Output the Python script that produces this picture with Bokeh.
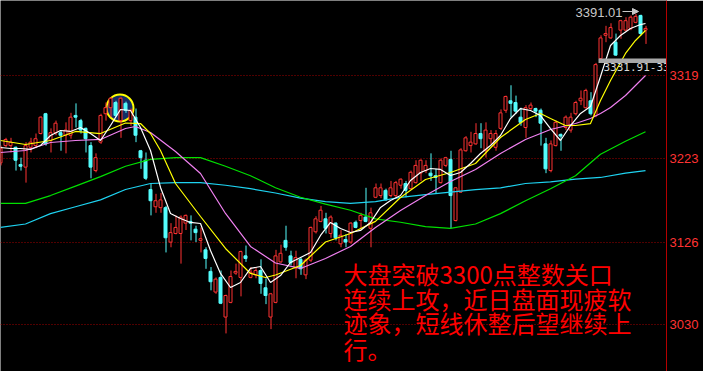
from bokeh.plotting import figure
from bokeh.models import Range1d, FixedTicker, Label, Arrow, NormalHead, ColumnDataSource
from bokeh.embed import file_html
from bokeh.resources import INLINE
from bokeh.core.properties import value

# ---------------- data ----------------
opens = [3218, 3238, 3238, 3236, 3216, 3213, 3236, 3238, 3252, 3275,
         3244, 3253, 3253, 3250, 3250, 3273, 3267, 3258, 3238, 3209,
         3242, 3275, 3282, 3288, 3267, 3287, 3267, 3271, 3232, 3221,
         3187, 3167, 3166, 3166, 3126, 3136, 3136, 3148, 3150, 3141,
         3128, 3117, 3092, 3068, 3085, 3039, 3056, 3090, 3085, 3110,
         3085, 3088, 3093, 3073, 3039, 3056, 3103, 3128, 3110, 3096,
         3106, 3088, 3105, 3138, 3150, 3153, 3136, 3148, 3124, 3129,
         3126, 3149, 3151, 3155, 3142, 3178, 3180, 3186, 3180, 3180,
         3192, 3194, 3188, 3195, 3206, 3209, 3206, 3203, 3195, 3215,
         3222, 3151, 3184, 3232, 3238, 3240, 3252, 3232, 3246, 3236,
         3258, 3279, 3290, 3288, 3271, 3259, 3281, 3281, 3279, 3240,
         3209, 3238, 3251, 3259, 3256, 3275, 3290, 3282, 3290, 3273,
         3339, 3366, 3363, 3358, 3372, 3372, 3374, 3381, 3389, 3372]
highs = [3238, 3247, 3247, 3237, 3224, 3242, 3247, 3252, 3272, 3276,
         3258, 3267, 3256, 3265, 3276, 3287, 3269, 3259, 3242, 3229,
         3275, 3288, 3294, 3290, 3294, 3289, 3281, 3281, 3233, 3230,
         3194, 3182, 3183, 3168, 3148, 3157, 3157, 3158, 3157, 3145,
         3143, 3120, 3097, 3085, 3093, 3065, 3093, 3101, 3116, 3122,
         3097, 3097, 3106, 3084, 3067, 3117, 3123, 3145, 3116, 3116,
         3108, 3107, 3144, 3156, 3168, 3160, 3157, 3149, 3140, 3135,
         3149, 3151, 3160, 3189, 3166, 3194, 3194, 3188, 3197, 3197,
         3200, 3197, 3209, 3221, 3222, 3221, 3229, 3211, 3223, 3225,
         3232, 3190, 3235, 3249, 3254, 3264, 3264, 3265, 3256, 3256,
         3280, 3296, 3308, 3296, 3282, 3285, 3288, 3282, 3281, 3247,
         3244, 3267, 3252, 3273, 3276, 3290, 3302, 3304, 3300, 3334,
         3366, 3377, 3380, 3368, 3384, 3387, 3389, 3391.01, 3390, 3377]
lows = [3215, 3236, 3230, 3209, 3209, 3195, 3230, 3235, 3251, 3238,
        3230, 3250, 3232, 3229, 3246, 3259, 3252, 3230, 3200, 3207,
        3240, 3267, 3271, 3271, 3247, 3276, 3261, 3242, 3211, 3198,
        3157, 3160, 3160, 3114, 3120, 3135, 3101, 3140, 3128, 3126,
        3114, 3095, 3070, 3066, 3054, 3020, 3055, 3088, 3063, 3103,
        3084, 3084, 3066, 3054, 3025, 3055, 3102, 3116, 3099, 3084,
        3088, 3083, 3103, 3136, 3149, 3136, 3131, 3128, 3120, 3120,
        3124, 3142, 3142, 3149, 3120, 3177, 3177, 3174, 3178, 3178,
        3188, 3178, 3187, 3194, 3197, 3206, 3197, 3182, 3194, 3213,
        3142, 3150, 3183, 3231, 3230, 3239, 3235, 3224, 3240, 3232,
        3256, 3276, 3271, 3275, 3261, 3247, 3279, 3271, 3238, 3206,
        3207, 3237, 3232, 3256, 3253, 3273, 3285, 3281, 3273, 3271,
        3338, 3358, 3362, 3342, 3362, 3371, 3372, 3380, 3366, 3356]
closes = [3235, 3245, 3242, 3221, 3214, 3238, 3242, 3246, 3271, 3240,
          3253, 3264, 3250, 3256, 3271, 3271, 3256, 3246, 3213, 3224,
          3273, 3282, 3293, 3273, 3293, 3279, 3279, 3250, 3224, 3200,
          3174, 3174, 3175, 3131, 3137, 3143, 3155, 3157, 3148, 3137,
          3130, 3107, 3080, 3083, 3055, 3064, 3086, 3092, 3115, 3107,
          3091, 3093, 3078, 3064, 3066, 3110, 3113, 3120, 3102, 3108,
          3095, 3105, 3143, 3153, 3163, 3142, 3155, 3131, 3134, 3126,
          3148, 3143, 3157, 3150, 3160, 3189, 3189, 3175, 3189, 3195,
          3199, 3186, 3207, 3215, 3221, 3215, 3203, 3201, 3221, 3224,
          3180, 3189, 3233, 3247, 3242, 3252, 3246, 3256, 3252, 3252,
          3276, 3295, 3287, 3278, 3265, 3282, 3285, 3278, 3264, 3211,
          3240, 3265, 3249, 3271, 3271, 3288, 3293, 3302, 3275, 3332,
          3363, 3368, 3375, 3343, 3383, 3383, 3387, 3388, 3368, 3374]

ma5_x = list(range(0, 130, 2)) + [129]
ma5 = [3235.8, 3234.6, 3234.6, 3233.5, 3238.1, 3249.7, 3255.5, 3254.4, 3259.0, 3252.0,
       3243.9, 3261.3, 3279.9, 3278.7, 3259.0, 3232.3, 3189.4, 3159.2, 3153.4, 3148.8,
       3147.6, 3116.2, 3089.6, 3073.3, 3079.1, 3095.4, 3097.7, 3079.1, 3087.2, 3102.3,
       3108.1, 3113.9, 3133.7, 3148.8, 3141.8, 3137.1, 3139.5, 3148.8, 3166.2, 3174.3,
       3180.1, 3197.5, 3206.8, 3211.4, 3210.3, 3203.3, 3206.8, 3217.2, 3228.8, 3238.1,
       3249.7, 3269.4, 3281.0, 3278.7, 3272.9, 3257.8, 3243.9, 3261.3, 3275.3, 3283.4,
       3318.2, 3354.2, 3365.8, 3373.9, 3378.5, 3379.7]

ma10_x = [0, 5, 10, 15, 20, 25, 28, 30, 32, 35, 40, 45, 50, 53, 55, 60, 65, 70, 75, 80,
          85, 90, 95, 100, 105, 108, 110, 113, 115, 118, 120, 122, 125, 127, 129]
ma10 = [3243.9, 3239.3, 3243.9, 3254.4, 3252.0, 3264.2, 3263.6, 3252.0, 3232.3, 3194.0,
        3155.7, 3118.6, 3089.6, 3084.9, 3087.8, 3098.8, 3126.1, 3136.0, 3150.0, 3177.8,
        3198.6, 3206.8, 3217.2, 3247.4, 3268.3, 3275.2, 3269.4, 3261.3, 3261.3, 3263.6,
        3290.3, 3313.6, 3344.9, 3360.0, 3371.6]

ma20_x = [0, 5, 10, 15, 20, 25, 27, 30, 35, 40, 45, 50, 55, 60, 65, 70, 75, 80, 85, 90,
          95, 100, 105, 110, 115, 118, 120, 122, 125, 127, 129]
ma20 = [3230.0, 3232.3, 3241.6, 3243.9, 3245.1, 3257.8, 3260.2, 3253.2, 3231.2, 3205.6,
        3159.2, 3120.9, 3101.7, 3095.4, 3107.0, 3120.9, 3143.0, 3162.7, 3180.0, 3196.3,
        3210.3, 3228.8, 3245.1, 3256.7, 3263.6, 3269.4, 3275.3, 3282.2, 3296.1, 3307.8,
        3319.4]

ma_long_x = list(range(0, 130, 5)) + [129]
ma60 = [3171, 3171, 3180, 3191, 3202, 3214, 3222, 3224, 3224, 3214,
        3203, 3189, 3178, 3170, 3163, 3153, 3149, 3144, 3142, 3147,
        3159, 3174, 3188, 3203, 3228, 3243, 3254]
ma120 = [3143, 3147, 3159, 3167, 3175, 3187, 3194, 3195, 3195, 3192,
         3188, 3183, 3177, 3173, 3171, 3173, 3178, 3181, 3184, 3187,
         3189, 3194, 3196, 3199, 3201, 3206, 3209]

y_ticks = [3030, 3126, 3223, 3319]

text_lines = ["大盘突破3300点整数关口",
              "连续上攻，近日盘面现疲软",
              "迹象，短线休整后望继续上",
              "行。"]

high_label = "3391.01"
gap_label = "3331.91-3331.91"
gap_low, gap_high = 3334, 3339
circle_idx, circle_price = 23.9, 3281.6

# ---------------- figure ----------------
RED = "#ff3232"
CYAN = "#54fcfc"

p = figure(width=703, height=371, output_backend="svg", toolbar_location=None,
           x_range=Range1d(0, 133.2), y_range=Range1d(2975.8, 3406.4),
           x_axis_location=None, y_axis_location="right",
           background_fill_color="black", border_fill_color="black",
           min_border_left=0, min_border_top=0, min_border_bottom=0,
           min_border_right=37)
p.outline_line_color = None

ax = p.yaxis[0]
ax.ticker = FixedTicker(ticks=y_ticks)
ax.axis_line_color = "#b40000"
ax.axis_line_width = 1
ax.major_tick_line_color = None
ax.minor_tick_line_color = None
ax.major_tick_out = 0
ax.major_tick_in = 0
ax.minor_tick_out = 0
ax.major_label_text_color = "#ff3333"
ax.major_label_text_font = "Liberation Sans"
ax.major_label_text_font_size = "13px"
ax.major_label_standoff = 3

p.xgrid.visible = False
p.ygrid[0].ticker = FixedTicker(ticks=y_ticks)
p.ygrid.grid_line_color = "#a00000"
p.ygrid.grid_line_dash = "1 2"
p.ygrid.grid_line_width = 1

# highlight circle (behind candles)
p.circle(x=[circle_idx], y=[circle_price], radius=13.5, radius_units="screen",
         fill_color="#14306a", fill_alpha=0.95, line_color="#ffff00", line_width=2)

# candles
n = len(opens)
idx = list(range(n))
up = [i for i in idx if closes[i] >= opens[i]]
dn = [i for i in idx if closes[i] < opens[i]]

wx = [i + 0.1 for i in idx]

# red (up): hollow body, wick above and below
up_src = ColumnDataSource(dict(
    x=[idx[i] for i in up], wx=[wx[i] for i in up],
    top=[closes[i] for i in up], bottom=[opens[i] for i in up],
    h=[highs[i] for i in up], l=[lows[i] for i in up]))
p.segment(x0="wx", y0="top", x1="wx", y1="h", source=up_src, line_color=RED, line_width=1)
p.segment(x0="wx", y0="l", x1="wx", y1="bottom", source=up_src, line_color=RED, line_width=1)
p.vbar(x="x", width=0.6, top="top", bottom="bottom", source=up_src,
       fill_color="black", line_color=RED, line_width=1)

# cyan (down): filled body
dn_src = ColumnDataSource(dict(
    x=[idx[i] for i in dn], wx=[wx[i] for i in dn],
    top=[opens[i] for i in dn], bottom=[closes[i] for i in dn],
    h=[highs[i] for i in dn], l=[lows[i] for i in dn]))
p.segment(x0="wx", y0="h", x1="wx", y1="l", source=dn_src, line_color=CYAN, line_width=1)
p.vbar(x="x", width=0.6, top="top", bottom="bottom", source=dn_src,
       fill_color=CYAN, line_color=CYAN, line_width=1)

# moving averages
p.line(ma_long_x, ma120, line_color="#1ed2f0", line_width=1.2)
p.line(ma_long_x, ma60, line_color="#00e000", line_width=1.2)
p.line(ma20_x, ma20, line_color="#f080f0", line_width=1.2)
p.line(ma10_x, ma10, line_color="#ffff00", line_width=1.2)
p.line(ma5_x, ma5, line_color="#ffffff", line_width=1.2)

# gap marker
p.quad(left=[119.6], right=[134], bottom=[gap_low], top=[gap_high],
       fill_color="#a8a8a8", line_color=None)
p.text(x=[120.6], y=[gap_low - 0.5], text=[gap_label], text_baseline="top",
       text_align="left", text_font=value("DejaVu Sans Mono"),
       text_font_size="11px", text_color="#d8d8d8")

# highest value annotation
p.add_layout(Label(x=575, y=359, x_units="screen", y_units="screen", text=high_label,
                   text_font="Liberation Sans", text_font_size="13px",
                   text_color="#c8c8c8", text_baseline="middle"))
p.add_layout(Arrow(x_start=622, y_start=360, x_end=638, y_end=360,
                   start_units="screen", end_units="screen",
                   line_color="#c8c8c8", line_width=1,
                   end=NormalHead(size=6, fill_color="#c8c8c8", line_color="#c8c8c8")))

# commentary text
line_centers = [98, 73.5, 49, 23]
for t, yc in zip(text_lines, line_centers):
    p.add_layout(Label(x=343, y=yc, x_units="screen", y_units="screen", text=t,
                       text_font="Noto Sans CJK SC", text_font_size="24px",
                       text_color="#ff0000", text_baseline="middle"))

open("out.html", "w").write(file_html(p, INLINE))
